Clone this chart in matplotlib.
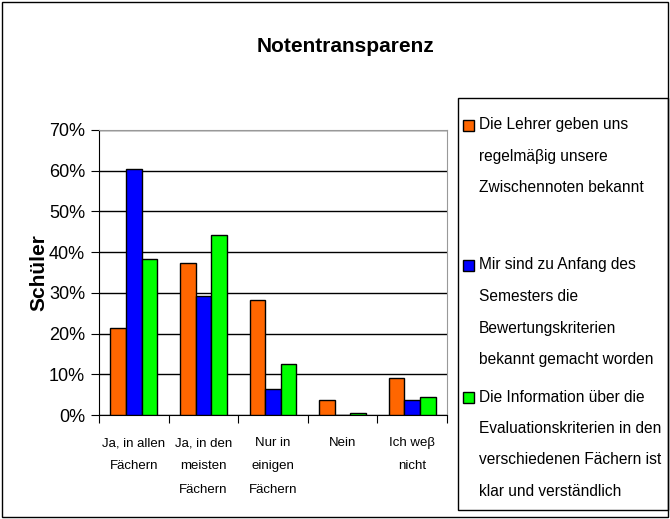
import matplotlib.pyplot as plt
from matplotlib.patches import Rectangle
import numpy as np

# Daten
categories = ['Ja, in allen\nFächern', 'Ja, in den\nmeisten\nFächern',
              'Nur in\neinigen\nFächern', 'Nein', 'Ich weβ\nnicht']
lehrer = [21.4, 37.4, 28.2, 3.8, 9.2]
kriterien = [60.3, 29.2, 6.3, 0.0, 3.8]
information = [38.4, 44.3, 12.6, 0.5, 4.3]
series_labels = [
    'Die Lehrer geben uns\nregelmäβig unsere\nZwischennoten bekannt',
    'Mir sind zu Anfang des\nSemesters die\nBewertungskriterien\nbekannt gemacht worden',
    'Die Information über die\nEvaluationskriterien in den\nverschiedenen Fächern ist\nklar und verständlich',
]
colors = ['#FF6600', '#0000FF', '#00FF00']
yticks = [0, 10, 20, 30, 40, 50, 60, 70]

plt.rcParams['font.family'] = ['Liberation Sans', 'DejaVu Sans']

W, H = 670, 519
fig = plt.figure(figsize=(W / 100, H / 100), dpi=100)
ax = fig.add_axes([99 / W, 1 - 415 / H, 348 / W, 285 / H])

x = np.arange(len(categories))
bw = 0.225
for i, (vals, c) in enumerate(zip([lehrer, kriterien, information], colors)):
    ax.bar(x + (i - 1) * bw, vals, bw, color=c, edgecolor='black', linewidth=1, zorder=3)

ax.set_xlim(-0.5, len(categories) - 0.5)
ax.set_ylim(0, 70)
ax.set_yticks(yticks)
ax.set_yticklabels([f'{v}%' for v in yticks], fontsize=13)
ax.yaxis.grid(True, color='black', linewidth=1, zorder=0)

# x-Ticks an den Kategoriegrenzen
ax.set_xticks(np.arange(len(categories) + 1) - 0.5)
ax.set_xticklabels([])
ax.set_xticks(x, minor=True)
ax.set_xticklabels(categories, minor=True, fontsize=9.5, linespacing=2.25, va='top')
ax.tick_params(axis='x', which='minor', length=0, pad=16)
ax.tick_params(axis='x', which='major', length=6, direction='out', color='black')
ax.tick_params(axis='y', length=6, direction='out', pad=4)

for s in ['top', 'right']:
    ax.spines[s].set_color('#999999')
for s in ['left', 'bottom']:
    ax.spines[s].set_color('black')

ax.set_ylabel('Schüler', fontsize=15, fontweight='bold', labelpad=0)
fig.text(345 / W, 1 - 47 / H, 'Notentransparenz', ha='center', va='center',
         fontsize=15, fontweight='bold')

# Legende
fig.patches.append(Rectangle((458 / W, 1 - 510 / H), 210 / W, 412 / H, transform=fig.transFigure,
                             facecolor='white', edgecolor='black', linewidth=1))
starts = [125, 265, 397]
step = 31.5
for lab, c, y0 in zip(series_labels, colors, starts):
    fig.patches.append(Rectangle((463 / W, 1 - (y0 + 6) / H), 11 / W, 11 / H, transform=fig.transFigure,
                                 facecolor=c, edgecolor='black', linewidth=1))
    for k, line in enumerate(lab.split('\n')):
        fig.text(479 / W, 1 - (y0 + k * step) / H, line, ha='left', va='center', fontsize=11.2)

# Rahmen
fig.patches.append(Rectangle((2 / W, 2 / H), (W - 4) / W, (H - 4) / H, transform=fig.transFigure,
                             facecolor='none', edgecolor='black', linewidth=1))

fig.savefig('out.png', dpi=100)
